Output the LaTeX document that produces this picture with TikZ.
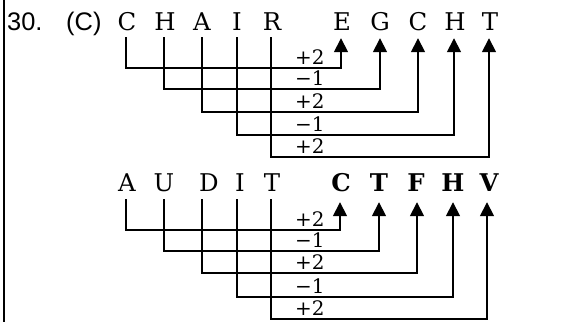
\documentclass[tikz,border=0pt]{standalone}
\usepackage{fontspec}
\setmainfont{DejaVu Serif}
\newfontfamily\sansf{Liberation Sans}
\usetikzlibrary{arrows.meta}
\begin{document}
\begin{tikzpicture}[x=1bp,y=-1bp,
  letter/.style={font=\fontsize{24.5}{24.5}\selectfont, anchor=base, inner xsep=0pt, text depth=0pt},
  boldletter/.style={letter, font=\fontsize{24.5}{24.5}\selectfont\bfseries},
  lab/.style={font=\fontsize{20}{20}\selectfont, anchor=base west, inner sep=0pt},
  num/.style={font=\sansf\fontsize{25.5}{25.5}\selectfont, anchor=base west, inner sep=0pt},
  conn/.style={line width=1.6bp, -{Triangle[length=14bp,width=14bp]}},
]
\useasboundingbox (0,0) rectangle (587,322);
\draw[line width=2.2bp] (4,0) -- (4,322);
\node[num] (n30) at (7,30) {30.};
\node[num] (nc) at (66,30) {(C)};

% ---------- upper row ----------
\node[letter, inner ysep=7bp] (a1) at (127,30) {C};
\node[letter, inner ysep=7bp] (a2) at (165,30) {H};
\node[letter, inner ysep=7bp] (a3) at (202,30) {A};
\node[letter, inner ysep=7bp] (a4) at (237,30) {I};
\node[letter, inner ysep=7bp] (a5) at (272,30) {R};
\node[letter, inner ysep=8bp] (b1) at (342,30) {E};
\node[letter, inner ysep=8bp] (b2) at (380,30) {G};
\node[letter, inner ysep=8bp] (b3) at (418,30) {C};
\node[letter, inner ysep=8bp] (b4) at (455,30) {H};
\node[letter, inner ysep=8bp] (b5) at (490,30) {T};
\coordinate (u1) at (126,68);
\coordinate (u2) at (164,89);
\coordinate (u3) at (202,112);
\coordinate (u4) at (237,135);
\coordinate (u5) at (271,157);
\coordinate (t1) at (341,0);
\coordinate (t2) at (380,0);
\coordinate (t3) at (418,0);
\coordinate (t4) at (454,0);
\coordinate (t5) at (489,0);
\foreach \i in {1,...,5}{
  \draw[conn] (a\i.south -| u\i) -- (u\i) -| (b\i.south -| t\i);
}
\node[lab] (p1) at (295,64) {+2};
\node[lab] (p2) at (295,85) {−1};
\node[lab] (p3) at (295,108) {+2};
\node[lab] (p4) at (295,131) {−1};
\node[lab] (p5) at (295,153) {+2};

% ---------- lower row ----------
\node[letter, inner ysep=8bp] (c1) at (127,191) {A};
\node[letter, inner ysep=8bp] (c2) at (164,191) {U};
\node[letter, inner ysep=8bp] (c3) at (209,191) {D};
\node[letter, inner ysep=8bp] (c4) at (240,191) {I};
\node[letter, inner ysep=8bp] (c5) at (272,191) {T};
\node[boldletter, inner ysep=11bp] (d1) at (341,191) {C};
\node[boldletter, inner ysep=11bp] (d2) at (379,191) {T};
\node[boldletter, inner ysep=11bp] (d3) at (416,191) {F};
\node[boldletter, inner ysep=11bp] (d4) at (453,191) {H};
\node[boldletter, inner ysep=11bp] (d5) at (489,191) {V};
\coordinate (w1) at (126,230);
\coordinate (w2) at (164,251);
\coordinate (w3) at (202,273);
\coordinate (w4) at (237,297);
\coordinate (w5) at (271,319);
\coordinate (s1) at (340,0);
\coordinate (s2) at (379,0);
\coordinate (s3) at (417,0);
\coordinate (s4) at (453,0);
\coordinate (s5) at (487,0);
\foreach \i in {1,...,5}{
  \draw[conn] (c\i.south -| w\i) -- (w\i) -| (d\i.south -| s\i);
}
\node[lab] (q1) at (295,226) {+2};
\node[lab] (q2) at (295,247) {−1};
\node[lab] (q3) at (295,269) {+2};
\node[lab] (q4) at (295,293) {−1};
\node[lab] (q5) at (295,315) {+2};
\end{tikzpicture}
\end{document}
